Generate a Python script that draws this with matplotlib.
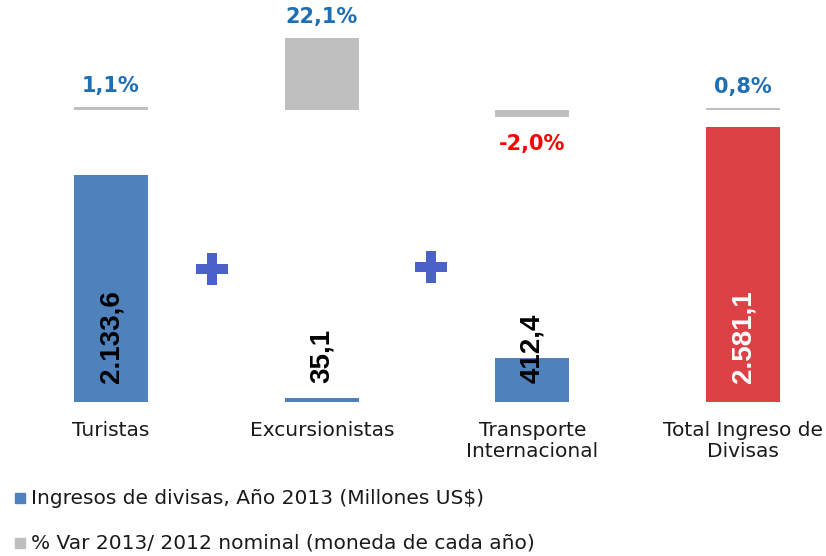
import matplotlib
matplotlib.use("Agg")
import matplotlib.pyplot as plt
import numpy as np

# data
categorias = ["Turistas", "Excursionistas", "Transporte\nInternacional", "Total Ingreso de\nDivisas"]
ingresos = [2133.6, 35.1, 412.4, 2581.1]
var_pct = [1.1, 22.1, -2.0, 0.8]
etiquetas_ingresos = ["2.133,6", "35,1", "412,4", "2.581,1"]
etiquetas_var = ["1,1%", "22,1%", "-2,0%", "0,8%"]
leyenda = ["Ingresos de divisas, Año 2013 (Millones US$)",
           "% Var 2013/ 2012 nominal (moneda de cada año)"]

c_azul = "#4F81BD"
c_rojo = "#DC4146"
c_gris = "#BFBFBF"
c_txt_pct = "#1F6FB5"
c_plus = "#4A62C8"

fig = plt.figure(figsize=(8.26, 5.56), dpi=100)
ax = fig.add_axes([0, 0, 1, 1])
ax2 = ax.twinx()

x = np.arange(len(categorias))
colores = [c_azul, c_azul, c_azul, c_rojo]

# primary bars (valores)
ax.bar(x, ingresos, width=0.351, color=colores, zorder=2)
ax.set_xlim(-0.527, 3.393)
ax.set_ylim(-1447.5, 3778.4)

# secondary bars (% var)
ax2.bar(x, var_pct, width=0.351, color=c_gris, zorder=2)
ax2.set_ylim(-136.36, 33.82)

for a in (ax, ax2):
    a.axis("off")

# rotated value labels inside / above bars
for i, (v, lab) in enumerate(zip(ingresos, etiquetas_ingresos)):
    col = "white" if i == 3 else "black"
    ax.annotate(lab, (x[i], 0), xytext=(0, 13.7), textcoords="offset points",
                rotation=90, ha="center", va="bottom", fontsize=20,
                fontweight="bold", color=col, family="Liberation Sans", zorder=3)

# percent labels
for i, (p, lab) in enumerate(zip(var_pct, etiquetas_var)):
    if p >= 0:
        ax2.annotate(lab, (x[i], p), xytext=(0, 8), textcoords="offset points",
                     ha="center", va="bottom", fontsize=15, fontweight="bold",
                     color=c_txt_pct)
    else:
        ax2.annotate(lab, (x[i], p), xytext=(0, -12), textcoords="offset points",
                     ha="center", va="top", fontsize=15, fontweight="bold",
                     color="#FF0000")

# plus signs between categories
ax.plot([0.48, 1.52], [1250, 1269], linestyle="none", marker="P",
        markersize=23, color=c_plus, markeredgewidth=0, zorder=3)

# category labels
for i, cat in enumerate(categorias):
    ax.text(x[i], 0, cat, transform=ax.transData, ha="center", va="top",
            fontsize=14.5, color="#1a1a1a", linespacing=1.15,
            ).set_y(-180)

# legend
fig.patches.append(plt.Rectangle((15 / 826, 1 - 503 / 556), 10 / 826, 10 / 556,
                                 transform=fig.transFigure, color=c_azul))
fig.patches.append(plt.Rectangle((15 / 826, 1 - 548 / 556), 10 / 826, 10 / 556,
                                 transform=fig.transFigure, color=c_gris))
fig.text(31 / 826, 1 - 498 / 556, leyenda[0], ha="left", va="center",
         fontsize=14.5, color="#1a1a1a")
fig.text(31 / 826, 1 - 543 / 556, leyenda[1], ha="left", va="center",
         fontsize=14.5, color="#1a1a1a")

fig.savefig("out.png", dpi=100)
